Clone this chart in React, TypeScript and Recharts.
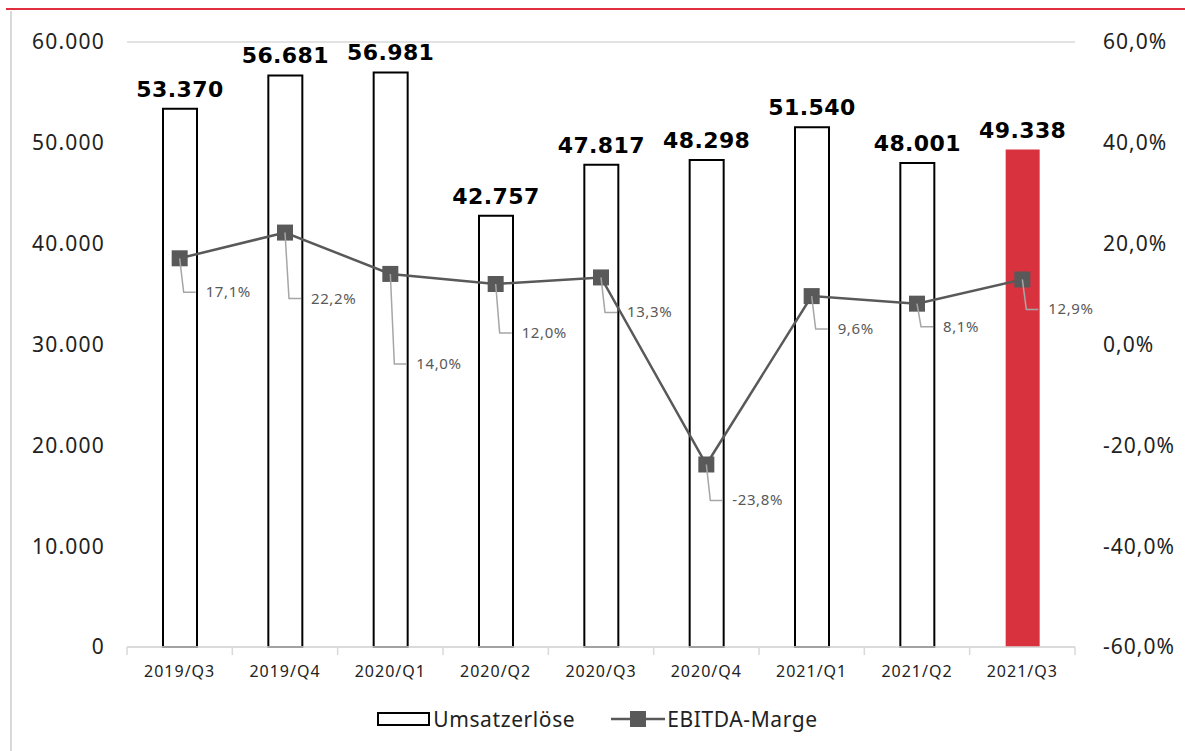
import React from 'react'
import { ComposedChart, Bar, Line, XAxis, YAxis, CartesianGrid, Legend, LabelList, Cell } from 'recharts'

const quarters = ['2019/Q3', '2019/Q4', '2020/Q1', '2020/Q2', '2020/Q3', '2020/Q4', '2021/Q1', '2021/Q2', '2021/Q3']
const umsatz = [53370, 56681, 56981, 42757, 47817, 48298, 51540, 48001, 49338]
const marge = [17.1, 22.2, 14.0, 12.0, 13.3, -23.8, 9.6, 8.1, 12.9]
const leftTicks = [0, 10000, 20000, 30000, 40000, 50000, 60000]
const rightTicks = [-60, -40, -20, 0, 20, 40, 60]

// how far each percentage label hangs below its marker
const labelDrop = [34, 66, 90, 49, 35, 36, 33, 23, 30]

const data = quarters.map((q, i) => ({ q, umsatz: umsatz[i], marge: marge[i] }))

const FONT = '"Noto Sans", sans-serif'
const BOLD_FONT = '"DejaVu Sans", sans-serif'
const PLOT_W = 1185 - 127 - 110
const BAND = PLOT_W / quarters.length

const fmtThousand = (v: number) => String(v).replace(/\B(?=(\d{3})+(?!\d))/g, '.')
const fmtPct = (v: number) => v.toFixed(1).replace('.', ',') + '%'

const XTick = (props: any) => {
  const { x, y, payload, index } = props
  const left = x - BAND / 2
  return (
    <g>
      <line x1={left} y1={y - 8} x2={left} y2={y} stroke="#d9d9d9" strokeWidth={1.5} />
      {index === quarters.length - 1 && (
        <line x1={left + BAND} y1={y - 8} x2={left + BAND} y2={y} stroke="#d9d9d9" strokeWidth={1.5} />
      )}
      <text x={x} y={y + 22} textAnchor="middle" fontSize={16} fill="#222" fontFamily={FONT} letterSpacing={1}>
        {payload.value}
      </text>
    </g>
  )
}

const SquareDot = (props: any) => {
  const { cx, cy } = props
  return <rect x={cx - 8} y={cy - 8} width={16} height={16} fill="#595959" />
}

const MargeLabel = (props: any) => {
  const { x, y, value, index } = props
  const d = labelDrop[index]
  return (
    <g>
      <polyline
        points={`${x},${y} ${x + 4},${y + d} ${x + 16},${y + d}`}
        fill="none"
        stroke="#a6a6a6"
        strokeWidth={1.5}
      />
      <text x={x + 26} y={y + d + 5} fontSize={15} fill="#595959" fontFamily={FONT} letterSpacing={0.6}>
        {fmtPct(value)}
      </text>
    </g>
  )
}

const LegendBox = () => (
  <div style={{ display: 'flex', justifyContent: 'center', alignItems: 'center', gap: 36, fontFamily: FONT, fontSize: 21, letterSpacing: 0.6, color: '#222', height: 44, paddingLeft: 10 }}>
    <span style={{ display: 'flex', alignItems: 'center' }}>
      <svg width={54} height={18}>
        <rect x={1} y={3} width={51} height={12} fill="#fff" stroke="#000" strokeWidth={2} />
      </svg>
      <span style={{ marginLeft: 2 }}>Umsatzerlöse</span>
    </span>
    <span style={{ display: 'flex', alignItems: 'center' }}>
      <svg width={54} height={18}>
        <line x1={0} y1={9} x2={54} y2={9} stroke="#595959" strokeWidth={2.5} />
        <rect x={19} y={1} width={16} height={16} fill="#595959" />
      </svg>
      <span style={{ marginLeft: 2 }}>EBITDA-Marge</span>
    </span>
  </div>
)

export default function App() {
  return (
    <div style={{ position: 'absolute', left: 0, top: 0, width: 1185, height: 751, background: '#fff' }}>
      <div style={{ position: 'absolute', left: 6, right: 0, top: 8, height: 2, background: '#e0303f' }} />
      <div style={{ position: 'absolute', left: 10, top: 11, bottom: 0, width: 2, background: '#d9d9d9' }} />
      <ComposedChart
        width={1185}
        height={751}
        data={data}
        margin={{ top: 42, right: 0, bottom: 10, left: 0 }}
        style={{ fontFamily: FONT }}
      >
        <CartesianGrid vertical={false} stroke="#d9d9d9" strokeWidth={1.5} />
        <XAxis
          dataKey="q"
          height={50}
          tick={<XTick />}
          tickLine={false}
          axisLine={{ stroke: '#d9d9d9', strokeWidth: 1.5 }}
          interval={0}
        />
        <YAxis
          yAxisId="left"
          width={127}
          domain={[0, 60000]}
          ticks={leftTicks}
          tickFormatter={fmtThousand}
          axisLine={false}
          tickLine={false}
          tickSize={0}
          tickMargin={22}
          tick={{ fontSize: 21, fill: '#222', fontFamily: FONT, letterSpacing: 1.2 }}
        />
        <YAxis
          yAxisId="right"
          orientation="right"
          width={110}
          domain={[-60, 60]}
          ticks={rightTicks}
          tickFormatter={(v: number) => fmtPct(v)}
          axisLine={false}
          tickLine={false}
          tickSize={0}
          tickMargin={28}
          tick={{ fontSize: 21, fill: '#222', fontFamily: FONT, letterSpacing: 1 }}
        />
        <Legend verticalAlign="bottom" height={44} content={<LegendBox />} />
        <Bar yAxisId="left" dataKey="umsatz" name="Umsatzerlöse" barSize={34} fill="#fff" stroke="#000" strokeWidth={2} isAnimationActive={false}>
          {data.map((d, i) => (
            <Cell key={d.q} fill={i === data.length - 1 ? '#d9323f' : '#fff'} stroke={i === data.length - 1 ? 'none' : '#000'} />
          ))}
          <LabelList dataKey="umsatz" position="top" offset={12} formatter={(v: any) => fmtThousand(v)} fontSize={22} fontWeight="bold" fill="#000" fontFamily={BOLD_FONT} letterSpacing={0.4} />
        </Bar>
        <Line
          yAxisId="right"
          dataKey="marge"
          name="EBITDA-Marge"
          stroke="#595959"
          strokeWidth={2.5}
          dot={<SquareDot />}
          activeDot={false}
          isAnimationActive={false}
        >
          <LabelList dataKey="marge" content={<MargeLabel />} />
        </Line>
      </ComposedChart>
    </div>
  )
}
